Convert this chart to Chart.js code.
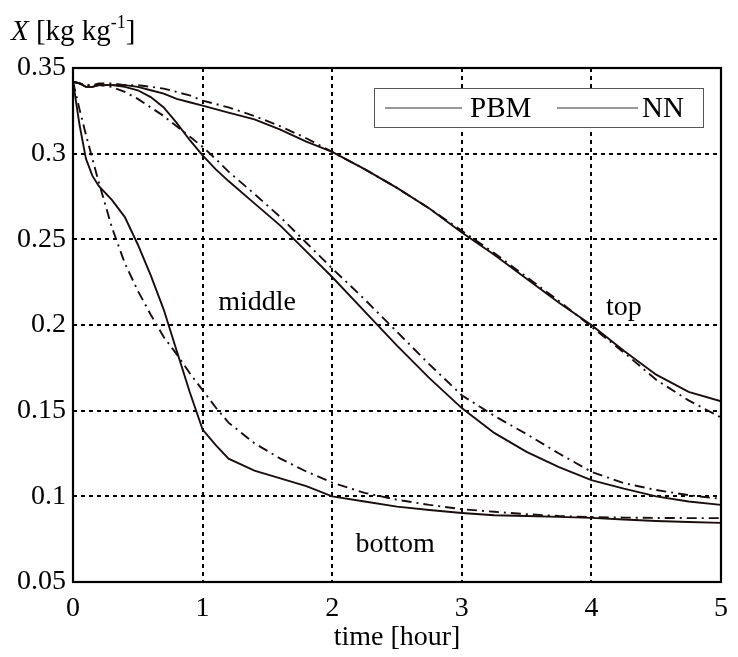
<!DOCTYPE html>
<html>
<head>
<meta charset="utf-8">
<script src="https://cdn.jsdelivr.net/npm/chart.js@4/dist/chart.umd.min.js"></script>
<style>
  body { margin: 0; background: #fff; }
  #wrap { width: 738px; height: 657px; }
</style>
</head>
<body>
<div id="wrap"><canvas id="grafico" width="738" height="657"></canvas></div>
<script>
// time [hour]
const tempo = [0, 0.05, 0.1, 0.15, 0.2, 0.3, 0.4, 0.5, 0.6, 0.7, 0.8, 0.9, 1.0, 1.1, 1.2,
  1.4, 1.6, 1.8, 2.0, 2.25, 2.5, 2.75, 3.0, 3.25, 3.5, 3.75, 4.0, 4.25, 4.5, 4.75, 5.0];

// moisture X [kg/kg], PBM = solid, NN = dash-dot
const topoPBM = [0.342, 0.341, 0.339, 0.339, 0.340, 0.340, 0.340, 0.339, 0.337, 0.335, 0.332, 0.330, 0.328, 0.326, 0.324,
  0.320, 0.314, 0.307, 0.301, 0.291, 0.280, 0.268, 0.254, 0.241, 0.227, 0.213, 0.200, 0.185, 0.171, 0.161, 0.1555];
const topoNN = [0.342, 0.341, 0.340, 0.340, 0.341, 0.341, 0.340, 0.340, 0.339, 0.338, 0.336, 0.334, 0.331, 0.329, 0.327,
  0.322, 0.316, 0.309, 0.301, 0.291, 0.280, 0.268, 0.255, 0.242, 0.228, 0.214, 0.199, 0.184, 0.168, 0.156, 0.146];
const meioPBM = [0.342, 0.341, 0.339, 0.339, 0.340, 0.340, 0.339, 0.337, 0.333, 0.327, 0.318, 0.308, 0.299, 0.291, 0.284,
  0.271, 0.258, 0.243, 0.228, 0.208, 0.188, 0.169, 0.1515, 0.137, 0.126, 0.117, 0.1095, 0.1045, 0.100, 0.097, 0.095];
const meioNN = [0.342, 0.341, 0.340, 0.340, 0.340, 0.339, 0.336, 0.332, 0.327, 0.322, 0.316, 0.310, 0.304, 0.297, 0.2895,
  0.2765, 0.263, 0.248, 0.233, 0.215, 0.196, 0.177, 0.159, 0.147, 0.1363, 0.125, 0.1143, 0.1077, 0.1037, 0.1007, 0.0985];
const fundoPBM = [0.342, 0.317, 0.297, 0.287, 0.281, 0.273, 0.263, 0.247, 0.229, 0.209, 0.185, 0.161, 0.139, 0.130, 0.122,
  0.115, 0.1105, 0.106, 0.100, 0.097, 0.094, 0.092, 0.0903, 0.089, 0.0885, 0.088, 0.0874, 0.0865, 0.0856, 0.085, 0.0845];
const fundoNN = [0.342, 0.326, 0.311, 0.297, 0.283, 0.257, 0.236, 0.220, 0.206, 0.193, 0.183, 0.172, 0.162, 0.152, 0.143,
  0.131, 0.122, 0.1145, 0.108, 0.102, 0.098, 0.095, 0.0925, 0.091, 0.0896, 0.0885, 0.0879, 0.0876, 0.0874, 0.0873, 0.0873];

const xTicks = [0, 1, 2, 3, 4, 5];
const yTicks = [0.05, 0.1, 0.15, 0.2, 0.25, 0.3, 0.35];
const nomes = ["PBM", "NN"];
// curve labels, in data coordinates (centre x, baseline y)
const rotulos = [
  { texto: "middle", x: 1.42, y: 0.2087 },
  { texto: "top", x: 4.25, y: 0.2058 },
  { texto: "bottom", x: 2.485, y: 0.0675 }
];

const SERIF = "'Liberation Serif', 'Times New Roman', serif";
const COR = "#1a0d0d";
const TRACO = [10, 5, 2, 5];

function serie(valores, tracejado) {
  return {
    data: tempo.map((t, i) => ({ x: t, y: valores[i] })),
    borderColor: COR,
    borderWidth: 1.9,
    borderDash: tracejado ? TRACO : [],
    pointRadius: 0,
    tension: 0,
    fill: false
  };
}

const extras = {
  id: "extras",
  afterDraw(chart) {
    const { ctx, chartArea: a, scales } = chart;
    ctx.save();

    // frame
    ctx.strokeStyle = "#000";
    ctx.lineWidth = 2.2;
    ctx.setLineDash([]);
    ctx.strokeRect(a.left, a.top, a.right - a.left, a.bottom - a.top);

    // curve labels
    ctx.fillStyle = "#000";
    ctx.font = "28px " + SERIF;
    ctx.textAlign = "center";
    ctx.textBaseline = "alphabetic";
    rotulos.forEach(r => {
      ctx.fillText(r.texto, scales.x.getPixelForValue(r.x), scales.y.getPixelForValue(r.y));
    });

    // legend
    ctx.fillStyle = "#fff";
    ctx.fillRect(374, 88, 329, 39);
    ctx.strokeStyle = "#555";
    ctx.lineWidth = 1;
    ctx.strokeRect(374.5, 88.5, 329, 39);
    ctx.strokeStyle = "#333";
    ctx.beginPath();
    ctx.moveTo(385, 108); ctx.lineTo(462, 108);
    ctx.moveTo(557, 108); ctx.lineTo(638, 108);
    ctx.stroke();
    ctx.fillStyle = "#000";
    ctx.textAlign = "left";
    ctx.textBaseline = "middle";
    ctx.font = "29px " + SERIF;
    ctx.fillText(nomes[0], 470, 109);
    ctx.fillText(nomes[1], 642, 109);

    // y axis title
    ctx.textBaseline = "alphabetic";
    let x = 11;
    const yb = 40;
    ctx.font = "italic 29px " + SERIF;
    ctx.fillText("X", x, yb);
    x += ctx.measureText("X").width;
    ctx.font = "29px " + SERIF;
    ctx.fillText(" [kg kg", x, yb);
    x += ctx.measureText(" [kg kg").width;
    ctx.font = "18px " + SERIF;
    ctx.fillText("-1", x, yb - 12);
    x += ctx.measureText("-1").width;
    ctx.font = "29px " + SERIF;
    ctx.fillText("]", x, yb);

    ctx.restore();
  }
};

const fonte = { family: SERIF, size: 28 };

new Chart(document.getElementById("grafico"), {
  type: "line",
  data: {
    datasets: [
      serie(topoPBM, false), serie(topoNN, true),
      serie(meioPBM, false), serie(meioNN, true),
      serie(fundoPBM, false), serie(fundoNN, true)
    ]
  },
  options: {
    responsive: false,
    animation: false,
    layout: { padding: { top: 68, right: 9, left: 0, bottom: 0 } },
    plugins: { legend: { display: false }, tooltip: { enabled: false } },
    scales: {
      x: {
        type: "linear",
        min: 0, max: 5,
        afterBuildTicks: s => { s.ticks = xTicks.map(v => ({ value: v })); },
        afterFit: s => { s.height = 75; },
        grid: { color: "#000", lineWidth: 2, drawTicks: false },
        border: { display: false, dash: [4, 4] },
        ticks: { color: "#000", font: fonte, padding: 10, maxRotation: 0 },
        title: { display: true, text: "time [hour]", color: "#000", font: fonte, padding: { top: 0, bottom: 3 } }
      },
      y: {
        type: "linear",
        min: 0.05, max: 0.35,
        afterBuildTicks: s => { s.ticks = yTicks.map(v => ({ value: v })); },
        afterFit: s => { s.width = 73; },
        grid: { color: "#000", lineWidth: 2, drawTicks: false },
        border: { display: false, dash: [4, 4] },
        ticks: { color: "#000", font: fonte, padding: 7, callback: v => String(v) }
      }
    }
  },
  plugins: [extras]
});
</script>
</body>
</html>
